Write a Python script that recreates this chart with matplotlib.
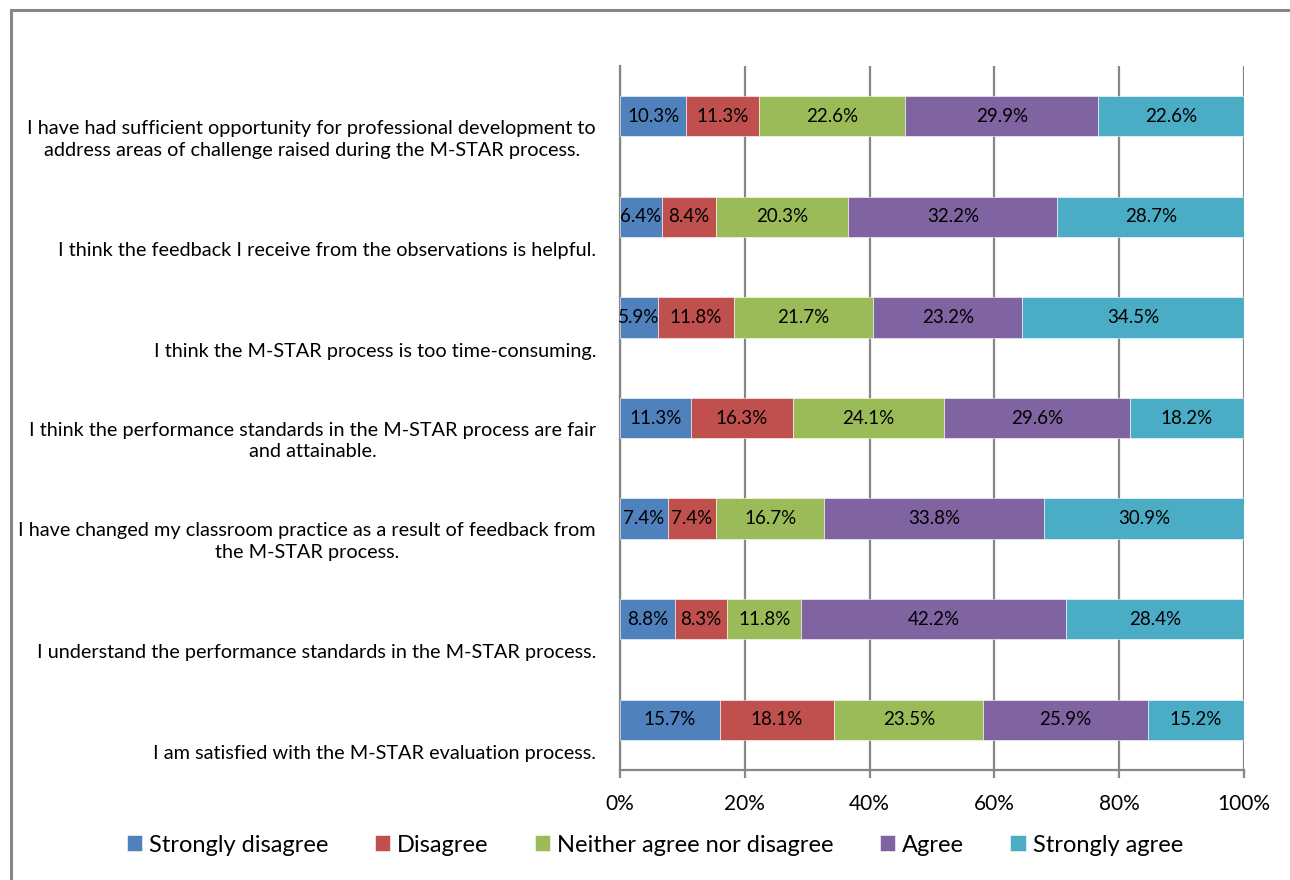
import numpy as np
import matplotlib
matplotlib.use("Agg")
import matplotlib.pyplot as plt
from matplotlib.patches import Rectangle

plt.rcParams['font.family'] = ['Lato', 'DejaVu Sans']

questions = [
    "I have had sufficient opportunity for professional development to\naddress areas of challenge raised during the M-STAR process.",
    "I think the feedback I receive from the observations is helpful.",
    "I think the M-STAR process is too time-consuming.",
    "I think the performance standards in the M-STAR process are fair\nand attainable.",
    "I have changed my classroom practice as a result of feedback from\nthe M-STAR process.",
    "I understand the performance standards in the M-STAR process.",
    "I am satisfied with the M-STAR evaluation process.",
]
responses = ["Strongly disagree", "Disagree", "Neither agree nor disagree",
             "Agree", "Strongly agree"]
strongly_disagree = [10.3, 6.4, 5.9, 11.3, 7.4, 8.8, 15.7]
disagree = [11.3, 8.4, 11.8, 16.3, 7.4, 8.3, 18.1]
neither = [22.6, 20.3, 21.7, 24.1, 16.7, 11.8, 23.5]
agree = [29.9, 32.2, 23.2, 29.6, 33.8, 42.2, 25.9]
strongly_agree = [22.6, 28.7, 34.5, 18.2, 30.9, 28.4, 15.2]
colors = ["#4F81BD", "#C0504D", "#9BBB59", "#8064A2", "#4BACC6"]

values = np.array([strongly_disagree, disagree, neither, agree, strongly_agree])
shares = values / values.sum(axis=0) * 100  # 100% stacked

fig = plt.figure(figsize=(12.9, 8.8), dpi=100)
ax = fig.add_axes([620/1290, 1-770/880, 624/1290, 704/880])

y = np.arange(len(questions))
left = np.zeros(len(questions))
for k in range(len(responses)):
    bars = ax.barh(y, shares[k], left=left, height=0.4, color=colors[k],
                   edgecolor='white', linewidth=0.4, label=responses[k], zorder=3)
    ax.bar_label(bars, labels=[f"{v:.1f}%" for v in values[k]],
                 label_type='center', fontsize=13.5, color='black')
    left += shares[k]

ax.set_xlim(0, 100)
ax.set_ylim(len(questions) - 0.5, -0.5)
ax.set_xticks(np.arange(0, 101, 20))
ax.set_xticklabels([f"{t}%" for t in range(0, 101, 20)], fontsize=15)
ax.set_yticks([])
ax.grid(axis='x', color='#878787', linewidth=1.6, zorder=0)
for s in ['top', 'right']:
    ax.spines[s].set_visible(False)
for s in ['left', 'bottom']:
    ax.spines[s].set_color('#878787')
    ax.spines[s].set_linewidth(1.6)
ax.tick_params(axis='x', length=6, width=1.6, color='#878787', pad=11)

for i, q in enumerate(questions):
    ax.text(-24/624, i + 0.42, q, transform=ax.get_yaxis_transform(),
            ha='right', va='bottom', multialignment='center', fontsize=14.3,
            linespacing=1.32)

handles, labs = ax.get_legend_handles_labels()
fig.legend(handles, labs, loc='center', bbox_to_anchor=(655/1290, 1-845/880),
           ncol=5, frameon=False, fontsize=17, handlelength=0.65,
           handleheight=0.65, handletextpad=0.3, columnspacing=1.95)

fig.patches.append(Rectangle((11/1290, -0.1), 1.2, 0.1 + 1-10/880,
                             transform=fig.transFigure, fill=False,
                             edgecolor='#888888', linewidth=2.2))

fig.savefig("out.png", dpi=100)
